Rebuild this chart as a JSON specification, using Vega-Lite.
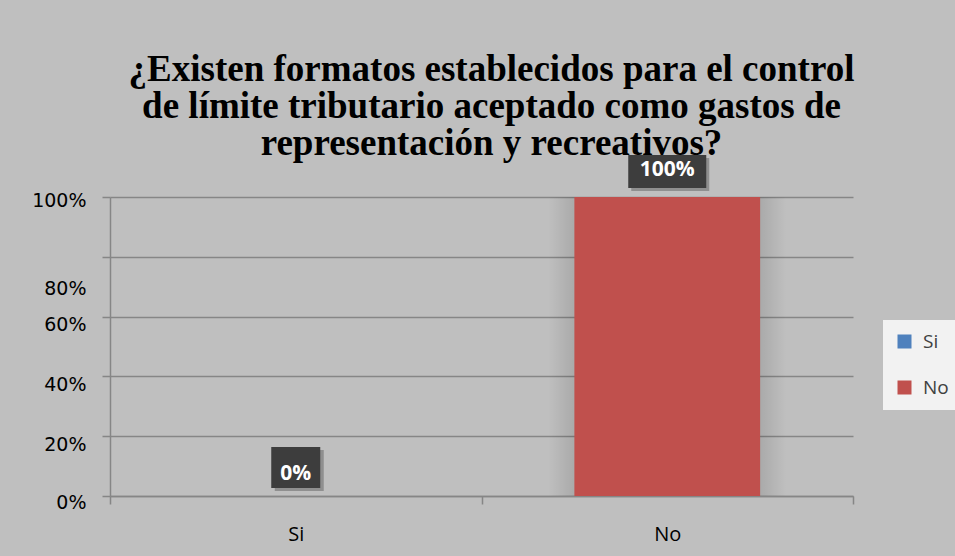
{
  "$schema": "https://vega.github.io/schema/vega-lite/v6.json",
  "width": 743,
  "height": 299,
  "autosize": {"type": "none"},
  "padding": {"left": 110, "top": 197, "right": 102, "bottom": 60},
  "background": "#bfbfbf",
  "title": {
    "text": ["¿Existen formatos establecidos para el control", "de límite tributario aceptado como gastos de", "representación y recreativos?"],
    "font": "Liberation Serif",
    "fontSize": 37,
    "fontWeight": "bold",
    "color": "#000000",
    "lineHeight": 37,
    "anchor": "middle",
    "frame": "group",
    "dx": 10,
    "offset": -8
  },
  "data": {
    "values": [
      {"respuesta": "Si", "porcentaje": 0},
      {"respuesta": "No", "porcentaje": 1}
    ]
  },
  "encoding": {
    "x": {
      "field": "respuesta",
      "type": "nominal",
      "sort": ["Si", "No"],
      "scale": {"paddingInner": 0, "paddingOuter": 0},
      "axis": {
        "title": null,
        "labelAngle": 0,
        "labelFont": "Open Sans",
        "labelFontSize": 20,
        "labelColor": "#000000",
        "labelPadding": 20,
        "tickBand": "extent",
        "tickSize": 8,
        "tickColor": "#868686",
        "tickWidth": 1.5,
        "domainColor": "#868686",
        "domainWidth": 1.5
      }
    }
  },
  "layer": [
    {
      "transform": [{"filter": "datum.respuesta === 'No'"}],
      "mark": {
        "type": "bar",
        "width": {"band": 0.64},
        "color": {
          "gradient": "linear",
          "x1": 0, "x2": 1, "y1": 0, "y2": 0,
          "stops": [
            {"offset": 0, "color": "rgba(0,0,0,0)"},
            {"offset": 0.12, "color": "rgba(0,0,0,0.12)"},
            {"offset": 0.88, "color": "rgba(0,0,0,0.12)"},
            {"offset": 1, "color": "rgba(0,0,0,0)"}
          ]
        }
      },
      "encoding": {
        "y": {"field": "porcentaje", "type": "quantitative"}
      }
    },
    {
      "mark": {"type": "bar", "width": {"band": 0.5}},
      "encoding": {
        "y": {
          "field": "porcentaje",
          "type": "quantitative",
          "scale": {"domain": [0, 1]},
          "axis": {
            "title": null,
            "format": "%",
            "values": [0, 0.2, 0.4, 0.6, 0.8, 1],
            "labelFont": "DejaVu Sans",
            "labelFontSize": 19,
            "labelColor": "#000000",
            "labelPadding": 16,
            "labelOffset": {"expr": "abs(datum.value - 0.8) < 0.001 ? 32 : (datum.value > 0.99 ? 3 : (datum.value < 0.01 ? 6 : 8))"},
            "tickSize": 8,
            "tickColor": "#868686",
            "tickWidth": 1.5,
            "domainColor": "#868686",
            "domainWidth": 1.5,
            "grid": true,
            "gridColor": "#868686",
            "gridWidth": 1.5
          }
        },
        "color": {
          "field": "respuesta",
          "type": "nominal",
          "scale": {"domain": ["Si", "No"], "range": ["#4f81bd", "#c0504d"]},
          "legend": {
            "title": null,
            "orient": "none",
            "legendX": 773,
            "legendY": 123,
            "fillColor": "#f2f2f2",
            "padding": 12,
            "symbolType": "square",
            "symbolSize": 196,
            "symbolStrokeWidth": 0,
            "labelFont": "Open Sans",
            "labelFontSize": 19,
            "labelColor": "#404040",
            "labelOffset": 9,
            "rowPadding": 26
          }
        }
      }
    },
    {
      "transform": [{"filter": "datum.respuesta === 'Si'"}],
      "mark": {"type": "point", "shape": "M-2.1,-4.6L2.8,-4.6L2.8,-0.5L-2.1,-0.5Z", "filled": true, "size": 400, "color": "#000000", "opacity": 0.25},
      "encoding": {"y": {"field": "porcentaje", "type": "quantitative"}}
    },
    {
      "transform": [{"filter": "datum.respuesta === 'Si'"}],
      "mark": {"type": "point", "shape": "M-2.45,-4.9L2.45,-4.9L2.45,-0.8L-2.45,-0.8Z", "filled": true, "size": 400, "color": "#3d3d3d", "opacity": 1},
      "encoding": {"y": {"field": "porcentaje", "type": "quantitative"}}
    },
    {
      "transform": [{"filter": "datum.respuesta === 'Si'"}],
      "mark": {"type": "text", "dy": -22, "font": "Open Sans", "fontSize": 21, "fontWeight": "bold", "color": "#ffffff", "baseline": "middle"},
      "encoding": {
        "y": {"field": "porcentaje", "type": "quantitative"},
        "text": {"field": "porcentaje", "type": "quantitative", "format": ".0%"}
      }
    },
    {
      "transform": [{"filter": "datum.respuesta === 'No'"}],
      "mark": {"type": "point", "shape": "M-3.6,-3.9L4.2,-3.9L4.2,-0.6L-3.6,-0.6Z", "filled": true, "size": 400, "color": "#000000", "opacity": 0.25},
      "encoding": {"y": {"field": "porcentaje", "type": "quantitative"}}
    },
    {
      "transform": [{"filter": "datum.respuesta === 'No'"}],
      "mark": {"type": "point", "shape": "M-3.9,-4.2L3.9,-4.2L3.9,-0.9L-3.9,-0.9Z", "filled": true, "size": 400, "color": "#3d3d3d", "opacity": 1},
      "encoding": {"y": {"field": "porcentaje", "type": "quantitative"}}
    },
    {
      "transform": [{"filter": "datum.respuesta === 'No'"}],
      "mark": {"type": "text", "dy": -27, "font": "Open Sans", "fontSize": 21, "fontWeight": "bold", "color": "#ffffff", "baseline": "middle"},
      "encoding": {
        "y": {"field": "porcentaje", "type": "quantitative"},
        "text": {"field": "porcentaje", "type": "quantitative", "format": ".0%"}
      }
    }
  ],
  "config": {
    "view": {"stroke": null},
    "axis": {"labelFontWeight": "normal"}
  }
}
